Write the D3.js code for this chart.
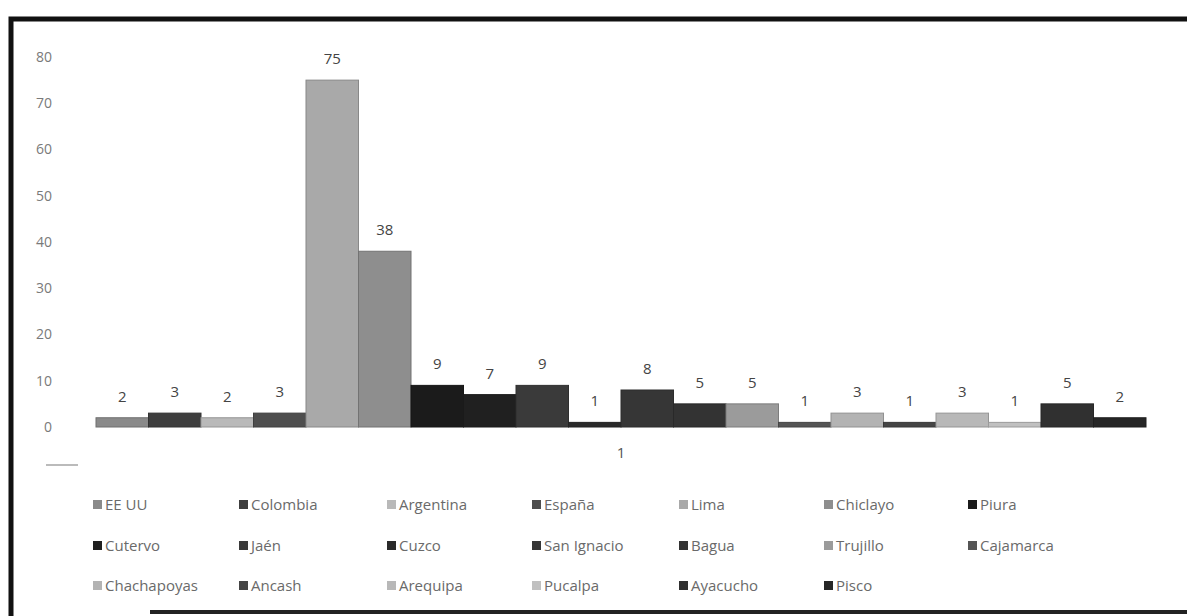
<!DOCTYPE html>
<html>
<head>
<meta charset="utf-8">
<script src="https://cdn.jsdelivr.net/npm/d3@7"></script>
<style>
  body { margin: 0; background: #fff; }
  svg { display: block; font-family: "Open Sans", "Noto Sans", sans-serif; }
</style>
</head>
<body>
<svg id="chart" width="1187" height="616"></svg>
<script>
// lugares de procedencia
var places = ["EE UU", "Colombia", "Argentina", "España", "Lima", "Chiclayo", "Piura",
  "Cutervo", "Jaén", "Cuzco", "San Ignacio", "Bagua", "Trujillo", "Cajamarca",
  "Chachapoyas", "Ancash", "Arequipa", "Pucalpa", "Ayacucho", "Pisco"];
var counts = [2, 3, 2, 3, 75, 38, 9, 7, 9, 1, 8, 5, 5, 1, 3, 1, 3, 1, 5, 2];
var shades = ["#8a8a8a", "#3e3e3e", "#b9b9b9", "#4e4e4e", "#a9a9a9", "#8e8e8e", "#1b1b1b",
  "#202020", "#3a3a3a", "#2a2a2a", "#363636", "#333333", "#9b9b9b", "#555555",
  "#b3b3b3", "#454545", "#b8b8b8", "#c0c0c0", "#303030", "#262626"];
var yTicks = [0, 10, 20, 30, 40, 50, 60, 70, 80];

var svg = d3.select("#chart");

// border of the scanned frame
svg.append("path")
  .attr("d", "M1190,19 L11,19 L11,620")
  .attr("fill", "none")
  .attr("stroke", "#111")
  .attr("stroke-width", 5);
svg.append("line")
  .attr("x1", 150).attr("x2", 1190)
  .attr("y1", 612).attr("y2", 612)
  .attr("stroke", "#222")
  .attr("stroke-width", 4);

var x = d3.scaleBand()
  .domain(places)
  .range([96, 1146])
  .padding(0);

var y = d3.scaleLinear()
  .domain([0, 80])
  .range([427, 57]);

// y axis: only labels, no line
var yAxis = svg.append("g")
  .attr("transform", "translate(56,0)")
  .call(d3.axisLeft(y).tickValues(yTicks).tickSize(0).tickPadding(4));
yAxis.select(".domain").remove();
yAxis.selectAll("text")
  .attr("font-size", 14)
  .attr("font-family", "Open Sans, sans-serif")
  .attr("fill", "#7a7a7a");

// small stray dash under the axis
svg.append("line")
  .attr("x1", 46).attr("x2", 78)
  .attr("y1", 465).attr("y2", 465)
  .attr("stroke", "#bbb")
  .attr("stroke-width", 2);

svg.selectAll("rect.bar")
  .data(places)
  .enter()
  .append("rect")
  .attr("class", "bar")
  .attr("x", function(d) { return x(d); })
  .attr("y", function(d, i) { return y(counts[i]); })
  .attr("width", x.bandwidth())
  .attr("height", function(d, i) { return y(0) - y(counts[i]); })
  .attr("fill", function(d, i) { return shades[i]; })
  .attr("stroke", function(d, i) { return d3.color(shades[i]).darker(0.6); })
  .attr("stroke-width", 1);

svg.selectAll("text.val")
  .data(places)
  .enter()
  .append("text")
  .attr("class", "val")
  .attr("x", function(d) { return x(d) + x.bandwidth() / 2; })
  .attr("y", function(d, i) { return y(counts[i]) - 16; })
  .attr("text-anchor", "middle")
  .attr("font-size", 15)
  .attr("fill", "#444")
  .text(function(d, i) { return counts[i]; });

// extra "1" that sits under the axis in the original
svg.append("text")
  .attr("x", x("San Ignacio"))
  .attr("y", 458)
  .attr("text-anchor", "middle")
  .attr("font-size", 15)
  .attr("fill", "#555")
  .text("1");

// legend, 7 per row
var colX = [97, 243, 391, 536, 683, 828, 972];
var rowY = [505, 546, 586];

var leg = svg.selectAll("g.leg")
  .data(places)
  .enter()
  .append("g")
  .attr("class", "leg")
  .attr("transform", function(d, i) {
    return "translate(" + colX[i % 7] + "," + rowY[Math.floor(i / 7)] + ")";
  });

leg.append("rect")
  .attr("x", -4).attr("y", -5)
  .attr("width", 9).attr("height", 9)
  .attr("fill", function(d, i) { return shades[i]; });

leg.append("text")
  .attr("x", 8)
  .attr("y", 5)
  .attr("font-size", 15)
  .attr("fill", "#6a6a6a")
  .text(function(d) { return d; });
</script>
</body>
</html>
